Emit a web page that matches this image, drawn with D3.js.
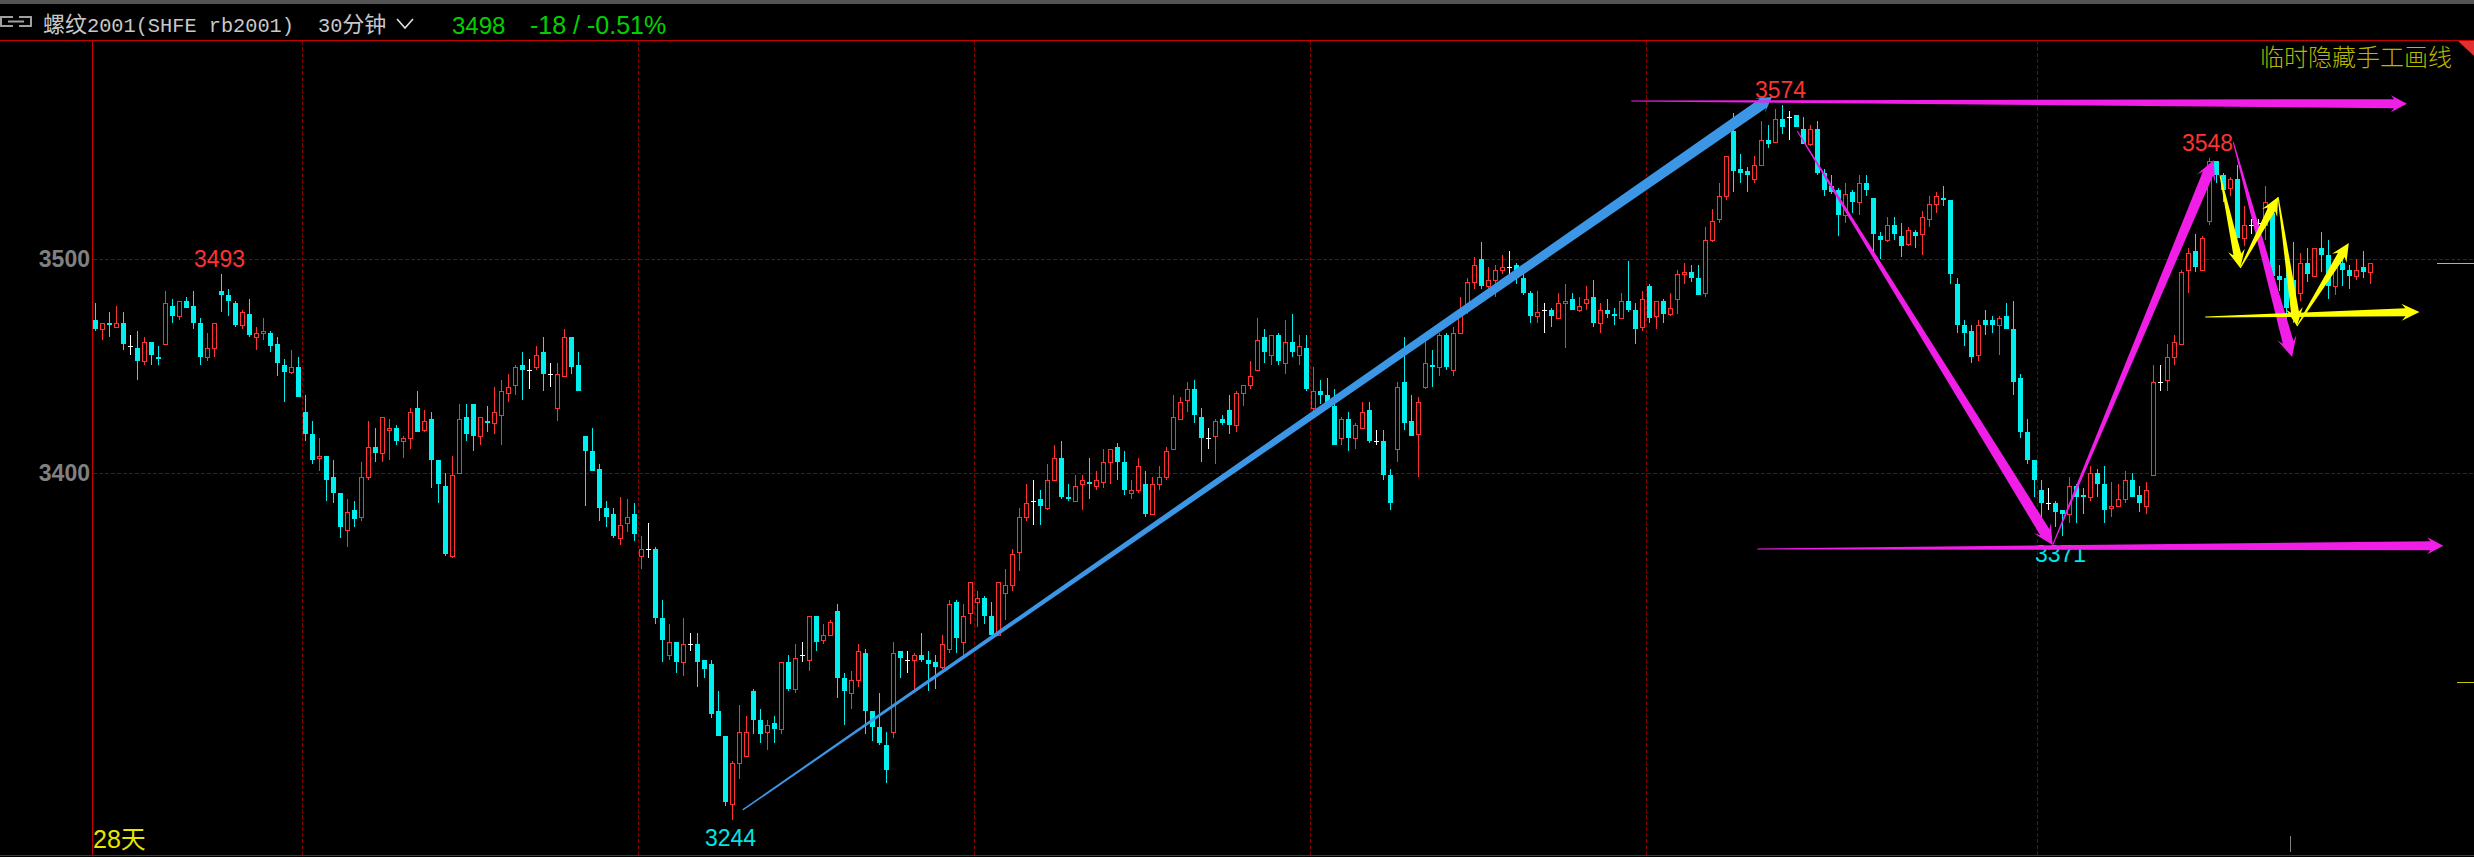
<!DOCTYPE html>
<html><head><meta charset="utf-8">
<style>html,body{margin:0;padding:0;background:#000;overflow:hidden}svg{display:block}</style>
<script src="https://cdn.jsdelivr.net/npm/d3@7"></script>
</head><body><svg id="c" width="2474" height="857"></svg>
<script>
const opens=[
3471,3467,3470,3468,3470,3459,3458,3452,3461,3454,
3460,3478,3473,3480,3478,3470,3454,3458,3485,3483,
3479,3469,3474,3463,3465,3465,3460,3450,3447,3449,
3428,3418,3407,3408,3398,3391,3374,3383,3380,3398,
3412,3409,3420,3421,3415,3416,3430,3420,3425,3406,
3394,3362,3400,3426,3432,3417,3424,3423,3427,3437,
3441,3450,3448,3449,3456,3446,3430,3445,3463,3450,
3417,3410,3402,3384,3381,3370,3377,3381,3362,3365,
3365,3334,3317,3323,3314,3322,3322,3315,3313,3292,
3281,3251,3269,3272,3301,3288,3283,3287,3284,3314,
3302,3317,3315,3335,3324,3326,3337,3307,3300,3306,
3318,3292,3285,3277,3283,3319,3315,3315,3317,3315,
3314,3312,3320,3341,3323,3336,3341,3343,3335,3326,
3345,3349,3364,3380,3387,3388,3384,3397,3407,3389,
3387,3395,3396,3394,3396,3405,3412,3405,3391,3392,
3395,3381,3395,3398,3411,3425,3434,3439,3426,3416,
3417,3425,3429,3422,3437,3441,3448,3463,3455,3464,
3451,3461,3455,3458,3430,3438,3436,3431,3416,3425,
3416,3421,3429,3415,3415,3399,3411,3442,3424,3418,
3440,3450,3449,3464,3448,3465,3476,3489,3500,3487,
3490,3495,3496,3497,3491,3484,3473,3476,3476,3472,
3479,3481,3476,3479,3482,3470,3476,3474,3472,3480,
3476,3468,3487,3473,3480,3474,3481,3493,3494,3491,
3484,3509,3519,3530,3561,3543,3542,3538,3545,3557,
3556,3567,3568,3569,3562,3555,3562,3541,3535,3533,
3521,3532,3527,3536,3529,3511,3509,3516,3511,3507,
3513,3512,3519,3526,3529,3528,3488,3469,3466,3455,
3471,3471,3469,3473,3467,3444,3419,3406,3392,3386,
3386,3383,3381,3394,3390,3389,3400,3395,3384,3385,
3388,3397,3390,3385,3399,3442,3443,3454,3460,3495,
3504,3495,3518,3547,3540,3534,3538,3510,3516,3517,
3516,3522,3492,3491,3490,3484,3498,3492,3505,3502,
3487,3498,3495,3492,3496,3494];
const closes=[
3467,3470,3469,3470,3460,3459,3452,3461,3455,3453,
3479,3473,3480,3477,3470,3454,3458,3470,3483,3480,
3469,3475,3464,3465,3466,3459,3451,3447,3449,3435,
3418,3406,3408,3397,3391,3375,3382,3379,3398,3412,
3409,3426,3421,3415,3416,3428,3419,3424,3406,3395,
3363,3399,3425,3418,3417,3426,3423,3428,3438,3440,
3449,3448,3448,3455,3446,3446,3446,3463,3449,3438,
3410,3401,3384,3380,3371,3376,3380,3372,3365,3365,
3334,3324,3323,3314,3322,3322,3314,3311,3291,3281,
3252,3269,3283,3283,3288,3282,3286,3284,3314,3302,
3316,3317,3335,3323,3326,3332,3307,3301,3306,3319,
3292,3285,3278,3266,3318,3316,3315,3317,3315,3313,
3312,3322,3340,3325,3335,3350,3343,3335,3326,3350,
3349,3363,3380,3386,3387,3385,3397,3407,3389,3388,
3394,3397,3395,3397,3405,3411,3405,3392,3392,3403,
3381,3395,3398,3410,3426,3433,3439,3427,3416,3416,
3424,3423,3422,3437,3441,3445,3462,3456,3464,3452,
3461,3456,3459,3439,3438,3436,3432,3413,3425,3416,
3422,3428,3415,3415,3399,3386,3440,3423,3417,3433,
3451,3449,3464,3449,3465,3475,3489,3497,3487,3490,
3495,3496,3496,3491,3484,3473,3475,3476,3473,3479,
3480,3476,3478,3481,3470,3476,3474,3473,3480,3476,
3467,3481,3472,3480,3474,3477,3493,3494,3491,3483,
3509,3518,3530,3549,3542,3541,3540,3545,3557,3555,
3567,3563,3568,3563,3555,3562,3541,3533,3532,3521,
3531,3527,3536,3533,3512,3509,3516,3512,3506,3514,
3511,3520,3526,3530,3528,3493,3469,3465,3454,3469,
3469,3469,3472,3467,3442,3419,3406,3397,3386,3386,
3382,3381,3394,3389,3389,3400,3395,3383,3385,3388,
3397,3389,3386,3392,3442,3442,3454,3461,3494,3503,
3496,3510,3547,3540,3533,3538,3510,3516,3516,3517,
3527,3492,3490,3477,3476,3498,3493,3505,3502,3487,
3497,3495,3492,3495,3494,3498];
const highs=[
3479,3470,3475,3478,3475,3464,3466,3463,3461,3459,
3485,3481,3480,3482,3485,3472,3465,3470,3493,3486,
3480,3476,3481,3468,3472,3466,3463,3453,3457,3454,
3436,3424,3416,3408,3406,3391,3388,3387,3405,3424,
3421,3426,3425,3422,3417,3430,3438,3429,3428,3406,
3400,3408,3432,3432,3432,3426,3431,3440,3443,3446,
3450,3456,3453,3459,3463,3451,3451,3467,3463,3456,
3417,3421,3404,3387,3384,3389,3388,3386,3371,3377,
3366,3342,3331,3323,3334,3327,3327,3315,3315,3301,
3281,3270,3295,3290,3302,3293,3288,3290,3314,3317,
3322,3323,3335,3335,3331,3333,3340,3309,3310,3322,
3320,3292,3300,3283,3323,3319,3319,3318,3327,3319,
3317,3326,3342,3342,3340,3350,3346,3344,3341,3350,
3356,3365,3384,3395,3397,3392,3404,3413,3415,3395,
3399,3399,3407,3401,3411,3411,3414,3410,3397,3407,
3401,3398,3403,3412,3436,3435,3442,3443,3430,3421,
3425,3427,3436,3438,3441,3452,3472,3467,3464,3465,
3471,3474,3464,3464,3449,3443,3444,3439,3426,3428,
3423,3433,3433,3420,3420,3402,3442,3463,3436,3435,
3461,3457,3465,3465,3468,3482,3491,3501,3508,3496,
3497,3502,3504,3498,3494,3485,3485,3479,3477,3484,
3488,3484,3482,3487,3490,3479,3481,3477,3484,3499,
3479,3485,3488,3480,3481,3484,3495,3498,3497,3497,
3515,3524,3536,3549,3570,3550,3544,3549,3566,3564,
3572,3574,3571,3569,3568,3564,3566,3543,3540,3534,
3536,3533,3540,3540,3529,3513,3520,3520,3517,3515,
3514,3523,3530,3532,3535,3528,3491,3471,3469,3471,
3476,3473,3473,3479,3480,3446,3425,3406,3397,3393,
3387,3383,3398,3395,3393,3403,3402,3403,3396,3395,
3401,3400,3394,3396,3450,3450,3460,3464,3495,3505,
3512,3511,3548,3547,3541,3539,3545,3525,3519,3519,
3535,3523,3497,3495,3508,3503,3505,3505,3513,3509,
3500,3500,3497,3500,3504,3498];
const lows=[
3466,3462,3463,3468,3457,3455,3443,3450,3450,3450,
3460,3470,3471,3477,3467,3450,3452,3454,3475,3473,
3468,3467,3463,3457,3462,3456,3445,3433,3446,3435,
3415,3404,3401,3387,3386,3370,3366,3375,3378,3397,
3405,3405,3406,3413,3407,3411,3419,3419,3393,3386,
3362,3361,3400,3415,3410,3413,3419,3418,3413,3433,
3436,3434,3439,3448,3438,3440,3424,3445,3446,3438,
3385,3401,3378,3375,3370,3367,3373,3369,3356,3361,
3331,3314,3315,3309,3308,3319,3303,3307,3289,3281,
3250,3244,3262,3272,3282,3278,3275,3278,3282,3301,
3300,3314,3310,3319,3322,3326,3298,3286,3293,3303,
3282,3279,3277,3260,3280,3307,3309,3302,3314,3301,
3302,3311,3318,3318,3316,3331,3330,3331,3326,3326,
3333,3346,3355,3378,3376,3376,3383,3397,3388,3387,
3387,3383,3388,3392,3393,3395,3397,3390,3388,3391,
3380,3381,3392,3397,3411,3425,3428,3423,3405,3411,
3404,3422,3418,3419,3431,3439,3448,3451,3450,3450,
3446,3454,3450,3438,3428,3432,3430,3413,3413,3410,
3411,3421,3414,3413,3397,3383,3405,3420,3417,3398,
3439,3440,3445,3448,3445,3465,3474,3486,3486,3484,
3482,3493,3488,3488,3483,3470,3470,3465,3468,3472,
3458,3476,3475,3476,3468,3465,3472,3469,3472,3475,
3460,3466,3470,3467,3470,3473,3474,3488,3489,3483,
3482,3508,3517,3528,3532,3536,3532,3536,3545,3553,
3556,3560,3557,3563,3555,3554,3540,3530,3531,3511,
3517,3522,3521,3530,3502,3500,3508,3509,3501,3506,
3505,3502,3515,3522,3525,3488,3465,3459,3451,3452,
3464,3465,3455,3467,3436,3416,3404,3389,3378,3383,
3375,3371,3377,3377,3381,3387,3389,3377,3380,3385,
3386,3389,3382,3381,3399,3438,3438,3450,3460,3484,
3494,3495,3516,3536,3527,3530,3510,3506,3512,3513,
3509,3492,3485,3468,3470,3480,3489,3492,3494,3481,
3483,3487,3486,3490,3491,3488];
const priceTicks=[3400,3500];
const gridBars=[29.5,77.5,125.5,173.5,221.5,277.5];
const highLabels=[[18,3493],[241,3574],[302,3548]];
const lowLabels=[[91,3244],[281,3371]];
// hand-drawn arrows: [bar0, price0, bar1, price1]
const blueArrows=[[92.46,3248.3,239.5,3577.6]];
const magentaLevels=[
 [219.4,3575.7,330.2,3574.4],
 [237.4,3365.2,335.4,3366.7]];
const magentaSwings=[
 [243.1,3561.2,279.6,3367],
 [279.6,3367,302.6,3547.3],
 [305.4,3555.9,313.8,3453.9]];
const yellowArrows=[
 [301.4,3472.6,332,3475],
 [303.5,3540,306.4,3495.7],
 [306.4,3495.7,311.8,3529.5],
 [311.8,3529.5,314.5,3468.4],
 [314.5,3468.4,321.9,3507.6]];

const W=2474,H=857;
const svg=d3.select('#c');
const x=d3.scaleLinear().domain([0,325]).range([95.5,2370.5]);
const y=d3.scaleLog().domain([3400,3500]).range([473,259]);
const RED='#ff3232',CYAN='#00f0f0',GRID='#840000',AXIS='#c80000';
const bars=opens.map((o,i)=>({i,o,c:closes[i],h:highs[i],l:lows[i]}));

// chrome
svg.append('rect').attr('width',W).attr('height',H).attr('fill','#000');
svg.append('rect').attr('width',W).attr('height',4).attr('fill','#555');
const crisp=svg.append('g').attr('shape-rendering','crispEdges');
crisp.append('line').attr('x1',0).attr('x2',W).attr('y1',40.5).attr('y2',40.5).attr('stroke',AXIS);
crisp.append('line').attr('x1',0).attr('x2',W).attr('y1',855.5).attr('y2',855.5).attr('stroke',AXIS);
crisp.append('line').attr('x1',92.5).attr('x2',92.5).attr('y1',41).attr('y2',856).attr('stroke',AXIS);

// grid
crisp.selectAll('.gy').data(priceTicks).join('line').attr('x1',93).attr('x2',W)
 .attr('y1',d=>Math.round(y(d))+.5).attr('y2',d=>Math.round(y(d))+.5)
 .attr('stroke',GRID).attr('stroke-dasharray','4,2');
crisp.selectAll('.gx').data(gridBars).join('line').attr('y1',41).attr('y2',855)
 .attr('x1',d=>Math.floor(x(d))+.5).attr('x2',d=>Math.floor(x(d))+.5)
 .attr('stroke',GRID).attr('stroke-dasharray','4,2');

// price axis
const ax=svg.append('g').attr('transform','translate(91,0)')
 .call(d3.axisLeft(y).tickValues(priceTicks).tickSize(0).tickPadding(1).tickFormat(d3.format('d')));
ax.select('.domain').remove();
ax.selectAll('text').attr('fill','#808080').attr('font-family','"Liberation Sans"').attr('font-size',23).attr('font-weight','bold');

// candles
const g=svg.append('g').attr('shape-rendering','crispEdges');
const col=d=>d.c>d.o?RED:d.c<d.o?CYAN:'#ffffff';
g.selectAll('.w').data(bars).join('line')
 .attr('x1',d=>x(d.i)).attr('x2',d=>x(d.i))
 .attr('y1',d=>Math.round(y(d.h))).attr('y2',d=>Math.round(y(d.l)))
 .attr('stroke',col);
g.selectAll('.b').data(bars.filter(d=>d.c!==d.o)).join('rect')
 .attr('x',d=>d.c>d.o?x(d.i)-2:x(d.i)-2.5)
 .attr('y',d=>{const t=Math.round(y(Math.max(d.o,d.c)));return d.c>d.o?t+.5:t;})
 .attr('width',d=>d.c>d.o?4:5)
 .attr('height',d=>{const t=Math.round(y(Math.max(d.o,d.c))),b=Math.round(y(Math.min(d.o,d.c)));return d.c>d.o?Math.max(1,b-t):Math.max(2,b-t);})
 .attr('fill',d=>d.c>d.o?'#000':CYAN).attr('stroke',d=>d.c>d.o?RED:'none');
g.selectAll('.d').data(bars.filter(d=>d.c===d.o)).join('line')
 .attr('x1',d=>x(d.i)-2.5).attr('x2',d=>x(d.i)+2.5)
 .attr('y1',d=>Math.round(y(d.o))+.5).attr('y2',d=>Math.round(y(d.o))+.5)
 .attr('stroke','#fff');

// high / low labels
const lbl=(t,px,py,fill,size=23,anchor='middle')=>svg.append('text').text(t).attr('x',px).attr('y',py)
 .attr('fill',fill).attr('font-family','"Liberation Sans"').attr('font-size',size).attr('text-anchor',anchor);
highLabels.forEach(([i,v])=>lbl(v,x(i)-2,y(v)-7,RED));
lowLabels.forEach(([i,v])=>lbl(v,x(i)-2,y(v)+26,'#00e6e6'));

// tapered arrows
function arrow(a,fill,w0,w1,headW,headL,notch){
 const [p0,v0,p1,v1]=a;
 const X0=x(p0),Y0=y(v0),X1=x(p1),Y1=y(v1);
 const L=Math.hypot(X1-X0,Y1-Y0),ux=(X1-X0)/L,uy=(Y1-Y0)/L,nx=-uy,ny=ux;
 const at=(d,s)=>[X0+ux*d+nx*s,Y0+uy*d+ny*s];
 const pts=[at(0,w0/2),at(L-headL+notch,w1/2),at(L-headL,headW/2),at(L,0),at(L-headL,-headW/2),at(L-headL+notch,-w1/2),at(0,-w0/2)];
 svg.append('polygon').attr('points',pts.map(p=>p.join(',')).join(' ')).attr('fill',fill);
}
blueArrows.forEach(a=>arrow(a,'#3c96e6',1.5,11,18,15,4));
magentaLevels.forEach(a=>arrow(a,'#f01ee6',1,9,17,16,3));
magentaSwings.forEach(a=>arrow(a,'#f01ee6',1,11,20,20,5));
yellowArrows.forEach(a=>arrow(a,'#ffff00',1,8,17,18,4));

// header
const t=svg.append('text').attr('x',43).attr('y',32).attr('fill','#c8c8c8');
t.append('tspan').attr('font-family','"Noto Sans CJK SC"').attr('font-size',22).text('螺纹');
t.append('tspan').attr('font-family','"Liberation Mono"').attr('font-size',20.3).text('2001(SHFE rb2001)');
const t2=svg.append('text').attr('x',318).attr('y',32).attr('fill','#c8c8c8');
t2.append('tspan').attr('font-family','"Liberation Mono"').attr('font-size',20.3).text('30');
t2.append('tspan').attr('font-family','"Noto Sans CJK SC"').attr('font-size',22).text('分钟');
svg.append('path').attr('d','M397,19L405,28L413,19').attr('fill','none').attr('stroke','#e0e0e0').attr('stroke-width',1.6);
lbl('3498',452,34,'#00d200',24,'start');
lbl('-18 / -0.51%',530,34,'#00d200',25,'start');
// link icon
svg.append('path').attr('d','M13,17H1V26H13M19,17H31V26H19M8,21.5H24').attr('fill','none').attr('stroke','#a0a0a0').attr('stroke-width',2);

svg.append('text').text('临时隐藏手工画线').attr('x',2260).attr('y',66).attr('fill','#b8b800')
 .attr('font-family','"Noto Sans CJK SC"').attr('font-size',24).attr('font-weight',300);
svg.append('path').attr('d','M2458,41H2474V56Z').attr('fill','#e03030');
const t3=svg.append('text').attr('x',93).attr('y',848).attr('fill','#e6e600');
t3.append('tspan').attr('font-family','"Liberation Sans"').attr('font-size',25).text('28');
t3.append('tspan').attr('font-family','"Noto Sans CJK SC"').attr('font-size',25).text('天');

// right-edge current price ticks
const c2=svg.append('g').attr('shape-rendering','crispEdges');
c2.append('line').attr('x1',2437).attr('x2',W).attr('y1',263.5).attr('y2',263.5).attr('stroke','#c8c800');
c2.append('line').attr('x1',2457).attr('x2',W).attr('y1',682.5).attr('y2',682.5).attr('stroke','#c8c800');
c2.append('line').attr('x1',2290.5).attr('x2',2290.5).attr('y1',836).attr('y2',852).attr('stroke','#808080');
</script></body></html>
